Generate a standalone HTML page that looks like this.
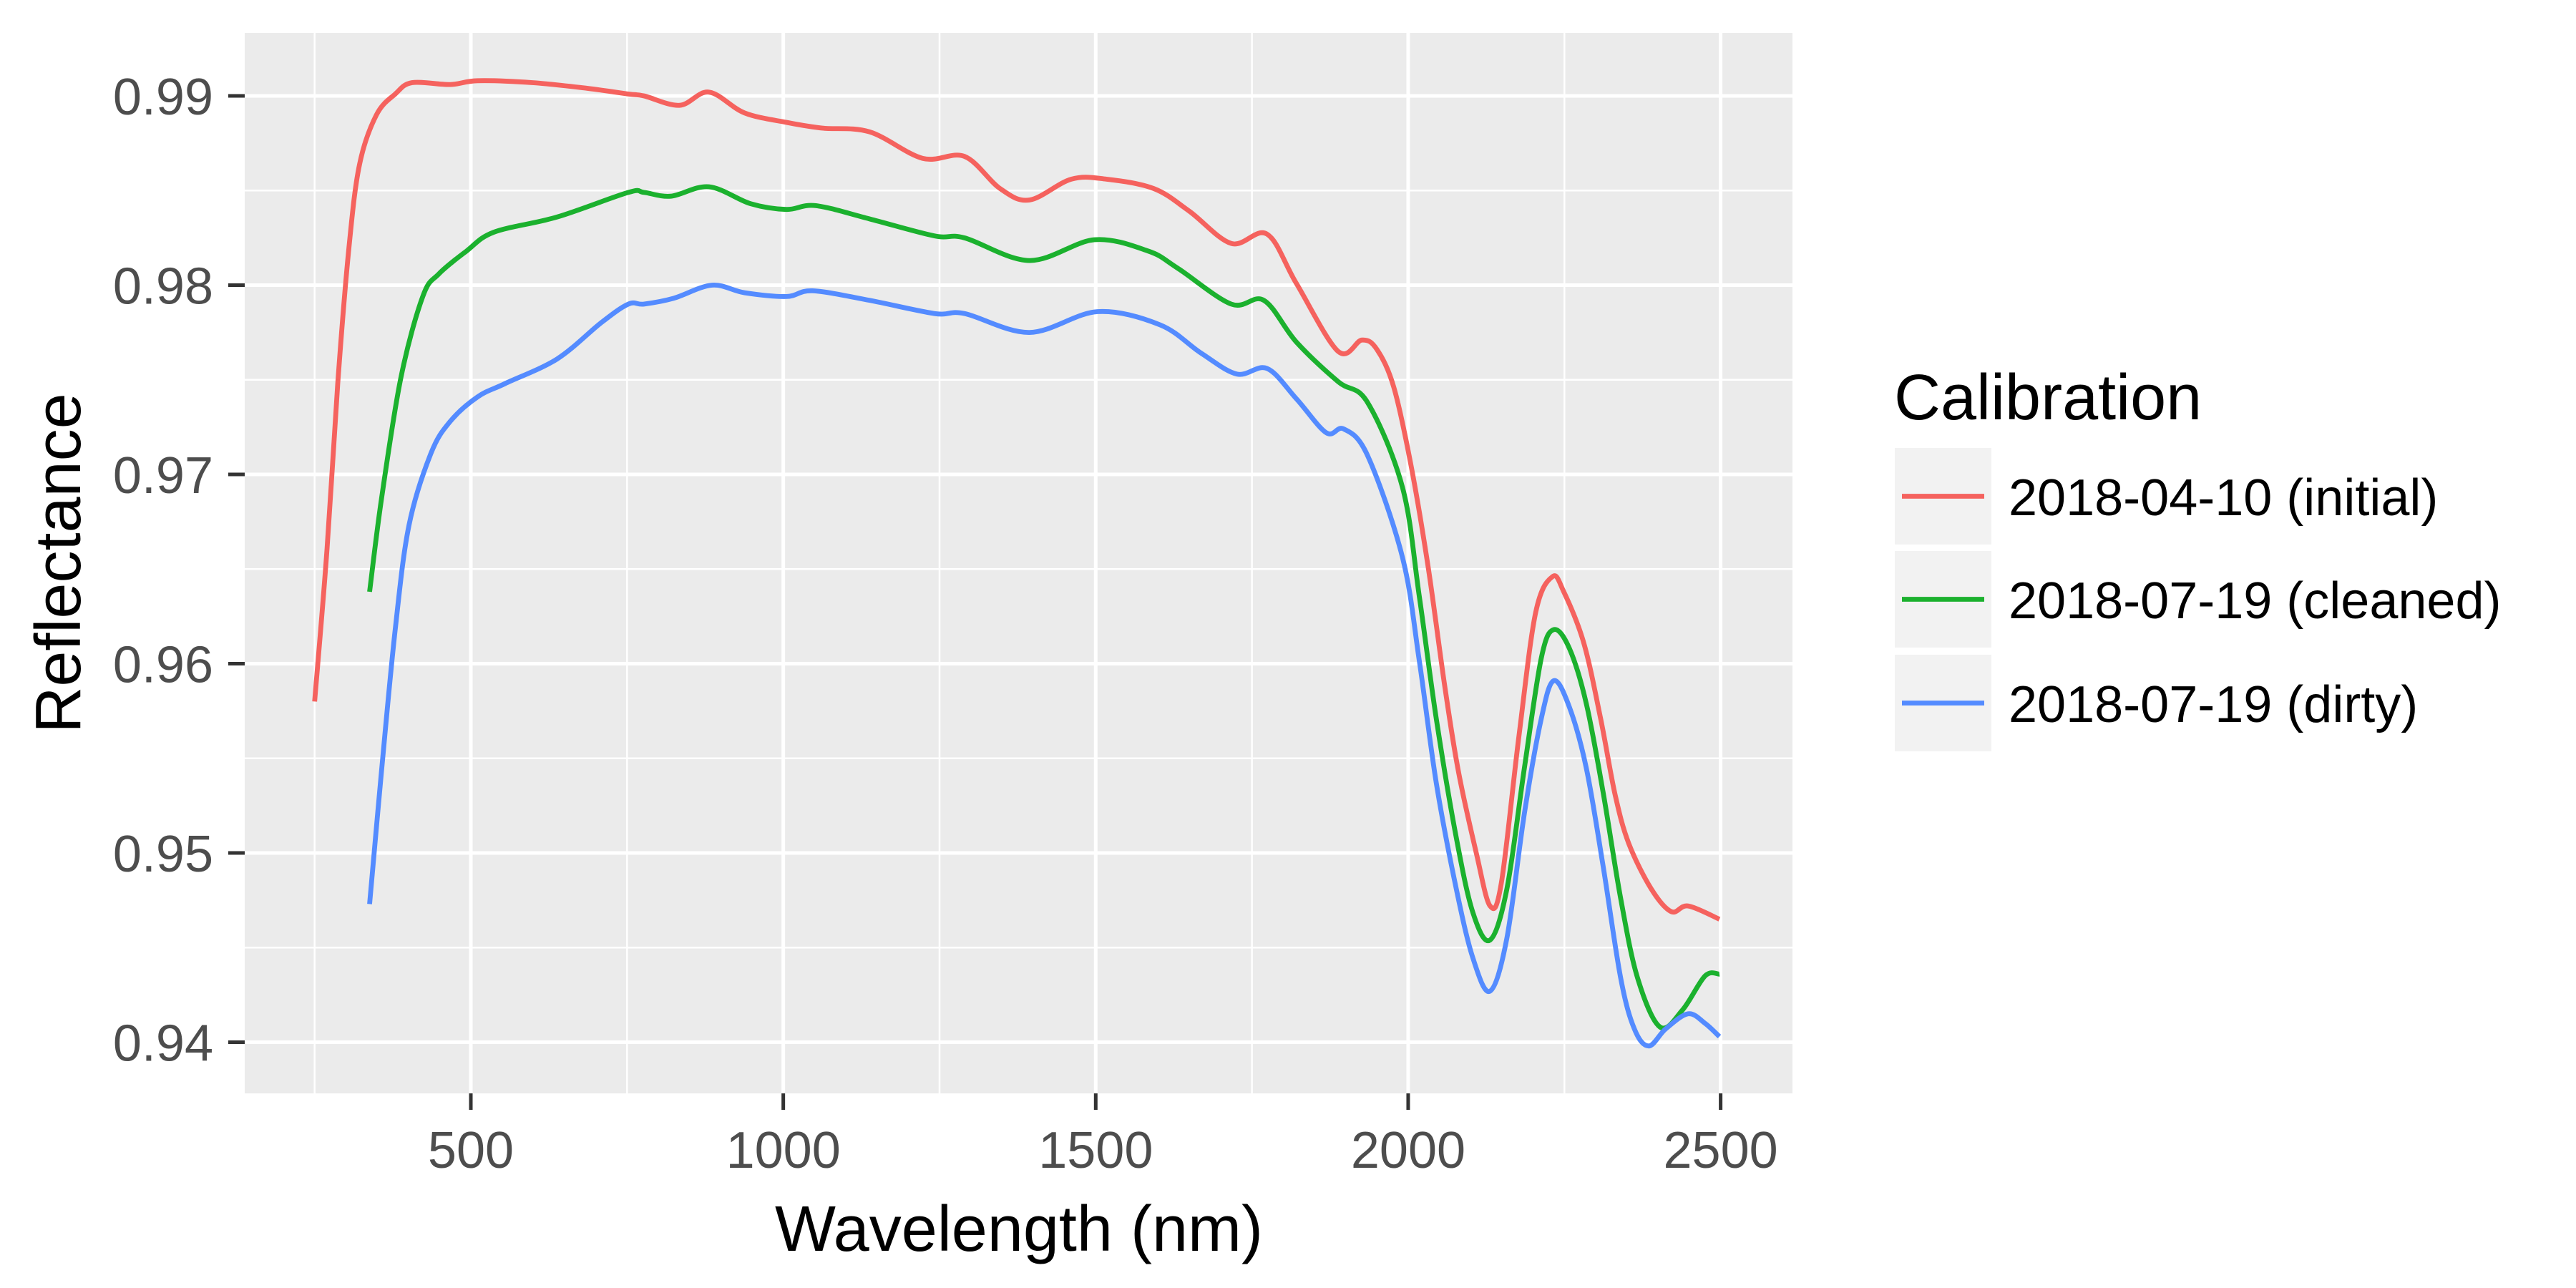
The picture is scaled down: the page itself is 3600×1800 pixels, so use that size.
<!DOCTYPE html>
<html><head><meta charset="utf-8"><style>
html,body{margin:0;padding:0;background:#fff;}
svg{display:block;}
text{font-family:"Liberation Sans",Arial,sans-serif;}
</style></head><body>
<svg id="chart" width="3600" height="1800" viewBox="0 0 3600 1800" xmlns="http://www.w3.org/2000/svg">
<rect x="0" y="0" width="3600" height="1800" fill="#ffffff"/>
<rect x="342" y="46" width="2163" height="1482" fill="#EBEBEB"/>
<g id="grid"></g>
<g id="series"></g>
<g id="axes"></g>
<text x="1424" y="1748" font-size="90" text-anchor="middle" fill="#000">Wavelength (nm)</text>
<text transform="translate(112,787) rotate(-90)" font-size="90" text-anchor="middle" fill="#000">Reflectance</text>
<g>
<text x="2647" y="586" font-size="90" fill="#000">Calibration</text>
<g id="legend-items"></g>
</g>
</svg>
<script>
const xTicks = [500, 1000, 1500, 2000, 2500];
const xMinor = [250, 750, 1250, 1750, 2250];
const yTicks = [0.94, 0.95, 0.96, 0.97, 0.98, 0.99];
const yTickLabels = ["0.94", "0.95", "0.96", "0.97", "0.98", "0.99"];
const yMinor = [0.935, 0.945, 0.955, 0.965, 0.975, 0.985];
const seriesNames = ["2018-04-10 (initial)", "2018-07-19 (cleaned)", "2018-07-19 (dirty)"];
const seriesColors = ["#F5625E", "#1BB12E", "#548BFF"];

const initialW = [250,270,287,305,322,349,379,406,467,511,598,686,752,777,834,881,938,1005,1062,1138,1223,1290,1347,1394,1461,1517,1593,1650,1717,1774,1821,1888,1926,1950,1977,2005,2032,2059,2081,2109,2131,2149,2177,2204,2231,2249,2281,2308,2331,2353,2389,2421,2448,2498];
const initialV = [.958,.9661,.9748,.9820,.9864,.9890,.9901,.9907,.9906,.9908,.9907,.9904,.9901,.9900,.9895,.9902,.9891,.9886,.9883,.9881,.9867,.9868,.9851,.9845,.9856,.9856,.9851,.9839,.9822,.9827,.9801,.9765,.9771,.9766,.9746,.9704,.9651,.9587,.9542,.9500,.9472,.9484,.9561,.9627,.9646,.9638,.9611,.9571,.9531,.9505,.9481,.9469,.9472,.9465];

const cleanedW = [338,357,388,423,449,493,537,638,752,777,820,881,948,1005,1052,1138,1242,1290,1394,1498,1584,1631,1717,1769,1821,1888,1935,1991,2018,2045,2077,2104,2131,2158,2186,2213,2233,2258,2285,2312,2340,2367,2403,2439,2475,2498];
const cleanedV = [.9638,.9687,.9751,.9794,.9806,.9818,.9828,.9836,.9849,.9849,.9847,.9852,.9843,.9840,.9842,.9835,.9826,.9825,.9813,.9824,.9818,.9809,.9790,.9792,.9770,.9749,.9738,.9693,.9635,.9571,.9508,.9468,.9454,.9481,.9545,.9603,.9618,.9608,.9579,.9532,.9476,.9434,.9408,.9417,.9435,.9436];

const dirtyW = [338,357,379,401,436,467,511,555,638,708,752,777,824,886,938,1005,1047,1138,1242,1290,1394,1503,1603,1669,1726,1774,1821,1869,1897,1935,1991,2018,2045,2077,2104,2131,2158,2186,2213,2233,2258,2285,2312,2340,2362,2385,2412,2448,2475,2498];
const dirtyV = [.9473,.9543,.9618,.9673,.9711,.9728,.9741,.9748,.9761,.9780,.9790,.9790,.9793,.9800,.9796,.9794,.9797,.9792,.9785,.9785,.9775,.9786,.9779,.9764,.9753,.9756,.9740,.9722,.9724,.9710,.9656,.9601,.9537,.9481,.9444,.9427,.9455,.9521,.9571,.9591,.9577,.9545,.9493,.9434,.9407,.9398,.9407,.9415,.9410,.9403];

const NS = "http://www.w3.org/2000/svg";
function xs(w){ return 658 + (w - 500) * 0.8733; }
function ys(v){ return 134 + (0.99 - v) * 26450; }
function mk(tag, attrs, parent){
  const el = document.createElementNS(NS, tag);
  for (const k in attrs) el.setAttribute(k, attrs[k]);
  parent.appendChild(el);
  return el;
}
const grid = document.getElementById('grid');
const PL = 342, PR = 2505, PT = 46, PB = 1528;
xMinor.forEach(w => {
  const l = mk('line', {x1: xs(w), x2: xs(w), y1: PT, y2: PB, stroke: '#fff', 'stroke-width': 2.5}, grid);
  
  
});
yMinor.forEach(v => {
  const l = mk('line', {x1: PL, x2: PR, y1: ys(v), y2: ys(v), stroke: '#fff', 'stroke-width': 2.5}, grid);
  
  
});
xTicks.forEach(w => {
  const l = mk('line', {x1: xs(w), x2: xs(w), y1: PT, y2: PB, stroke: '#fff', 'stroke-width': 5}, grid);
  
  
});
yTicks.forEach(v => {
  const l = mk('line', {x1: PL, x2: PR, y1: ys(v), y2: ys(v), stroke: '#fff', 'stroke-width': 5}, grid);
  
  
});

const axes = document.getElementById('axes');
xTicks.forEach(w => {
  const t = mk('line', {x1: xs(w), x2: xs(w), y1: PB, y2: PB + 23, stroke: '#333', 'stroke-width': 5}, axes);
  
  
  const lb = mk('text', {x: xs(w), y: 1632, 'font-size': 72, 'text-anchor': 'middle', fill: '#4D4D4D'}, axes);
  lb.textContent = String(w);
  
  
});
yTicks.forEach((v, i) => {
  const t = mk('line', {x1: PL - 23, x2: PL, y1: ys(v), y2: ys(v), stroke: '#333', 'stroke-width': 5}, axes);
  
  
  const lb = mk('text', {x: 298, y: ys(v) + 26, 'font-size': 72, 'text-anchor': 'end', fill: '#4D4D4D'}, axes);
  lb.textContent = yTickLabels[i];
  
  
});

function smoothPath(W, V){
  const p = W.map((w, i) => [xs(w), ys(V[i])]);
  let d = 'M' + p[0][0].toFixed(1) + ',' + p[0][1].toFixed(1);
  for (let i = 0; i < p.length - 1; i++) {
    const p0 = p[Math.max(0, i - 1)], p1 = p[i], p2 = p[i + 1], p3 = p[Math.min(p.length - 1, i + 2)];
    const c1x = p1[0] + (p2[0] - p0[0]) / 6, c1y = p1[1] + (p2[1] - p0[1]) / 6;
    const c2x = p2[0] - (p3[0] - p1[0]) / 6, c2y = p2[1] - (p3[1] - p1[1]) / 6;
    d += ' C' + c1x.toFixed(1) + ',' + c1y.toFixed(1) + ' ' + c2x.toFixed(1) + ',' + c2y.toFixed(1) + ' ' + p2[0].toFixed(1) + ',' + p2[1].toFixed(1);
  }
  return d;
}
const series = document.getElementById('series');
const allW = [initialW, cleanedW, dirtyW];
const allV = [initialV, cleanedV, dirtyV];
const lineNames = ['line-initial', 'line-cleaned', 'line-dirty'];
for (let s = 0; s < 3; s++) {
  const path = mk('path', {d: smoothPath(allW[s], allV[s]), fill: 'none', stroke: seriesColors[s], 'stroke-width': 6.8, 'stroke-linejoin': 'round'}, series);
  
  
}

const leg = document.getElementById('legend-items');
const keyTops = [626, 770, 915];
for (let s = 0; s < 3; s++) {
  const g = mk('g', {}, leg);
  
  
  const k = mk('rect', {x: 2648, y: keyTops[s], width: 135, height: 135, fill: '#F2F2F2'}, g);
  
  
  const ln = mk('line', {x1: 2658, x2: 2773, y1: keyTops[s] + 67.5, y2: keyTops[s] + 67.5, stroke: seriesColors[s], 'stroke-width': 6.8}, g);
  
  
  const t = mk('text', {x: 2807, y: keyTops[s] + 94, 'font-size': 72, fill: '#000'}, g);
  t.textContent = seriesNames[s];
  
  
}
</script>
</body></html>
